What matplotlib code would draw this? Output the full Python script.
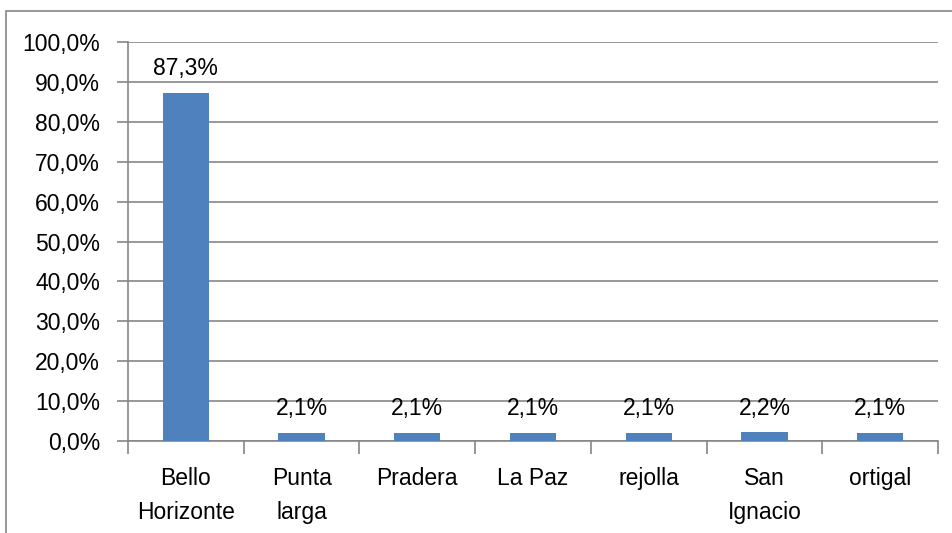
import matplotlib.pyplot as plt
from matplotlib.patches import Rectangle
from matplotlib.ticker import FixedLocator, FuncFormatter

plt.rcParams['font.family'] = ['Liberation Sans', 'DejaVu Sans']

categories = ['Bello\nHorizonte', 'Punta\nlarga', 'Pradera', 'La Paz', 'rejolla', 'San\nIgnacio', 'ortigal']
values = [87.3, 2.1, 2.1, 2.1, 2.1, 2.2, 2.1]

bar_color = '#4F81BD'
line_color = '#868686'
fs = 16.5

fig = plt.figure(figsize=(9.53, 5.33), dpi=100)
ax = fig.add_axes([128 / 953, 1 - 441 / 533, 810 / 953, 399 / 533])

# chart border (goes off the picture right and bottom)
fig.patches.append(Rectangle((6 / 953, -0.2), 1.2, 1 - 11 / 533 + 0.2,
                             transform=fig.transFigure, fill=False,
                             edgecolor=line_color, linewidth=1.2))

x = range(len(categories))
bars = ax.bar(x, values, width=0.4, color=bar_color, zorder=3)

for b, v in zip(bars, values):
    ax.annotate(f'{v:.1f}%'.replace('.', ','), (b.get_x() + b.get_width() / 2, v),
                xytext=(0, 9), textcoords='offset points', ha='center', va='bottom',
                fontsize=fs)

ax.set_xlim(-0.5, len(categories) - 0.5)
ax.set_ylim(0, 100)
ax.set_yticks(range(0, 101, 10))
ax.yaxis.set_major_formatter(FuncFormatter(lambda v, p: f'{v:.1f}%'.replace('.', ',')))
ax.yaxis.grid(True, color=line_color, linewidth=1.2, zorder=0)

# category ticks at boundaries, labels at centers
ax.xaxis.set_major_locator(FixedLocator([i - 0.5 for i in range(len(categories) + 1)]))
ax.xaxis.set_minor_locator(FixedLocator(list(x)))
ax.set_xticklabels([])
ax.set_xticklabels(categories, minor=True, fontsize=fs, linespacing=1.6)
ax.tick_params(axis='x', which='major', length=9, color=line_color, width=1.2)
ax.tick_params(axis='x', which='minor', length=0, pad=19)
ax.tick_params(axis='y', length=8, color=line_color, width=1.2, labelsize=fs, pad=12)
for lbl in ax.get_xticklabels(minor=True):
    lbl.set_verticalalignment('top')

for s in ['top', 'right']:
    ax.spines[s].set_visible(False)
for s in ['left', 'bottom']:
    ax.spines[s].set_color(line_color)
    ax.spines[s].set_linewidth(1.2)

fig.savefig('out.png', dpi=100)
